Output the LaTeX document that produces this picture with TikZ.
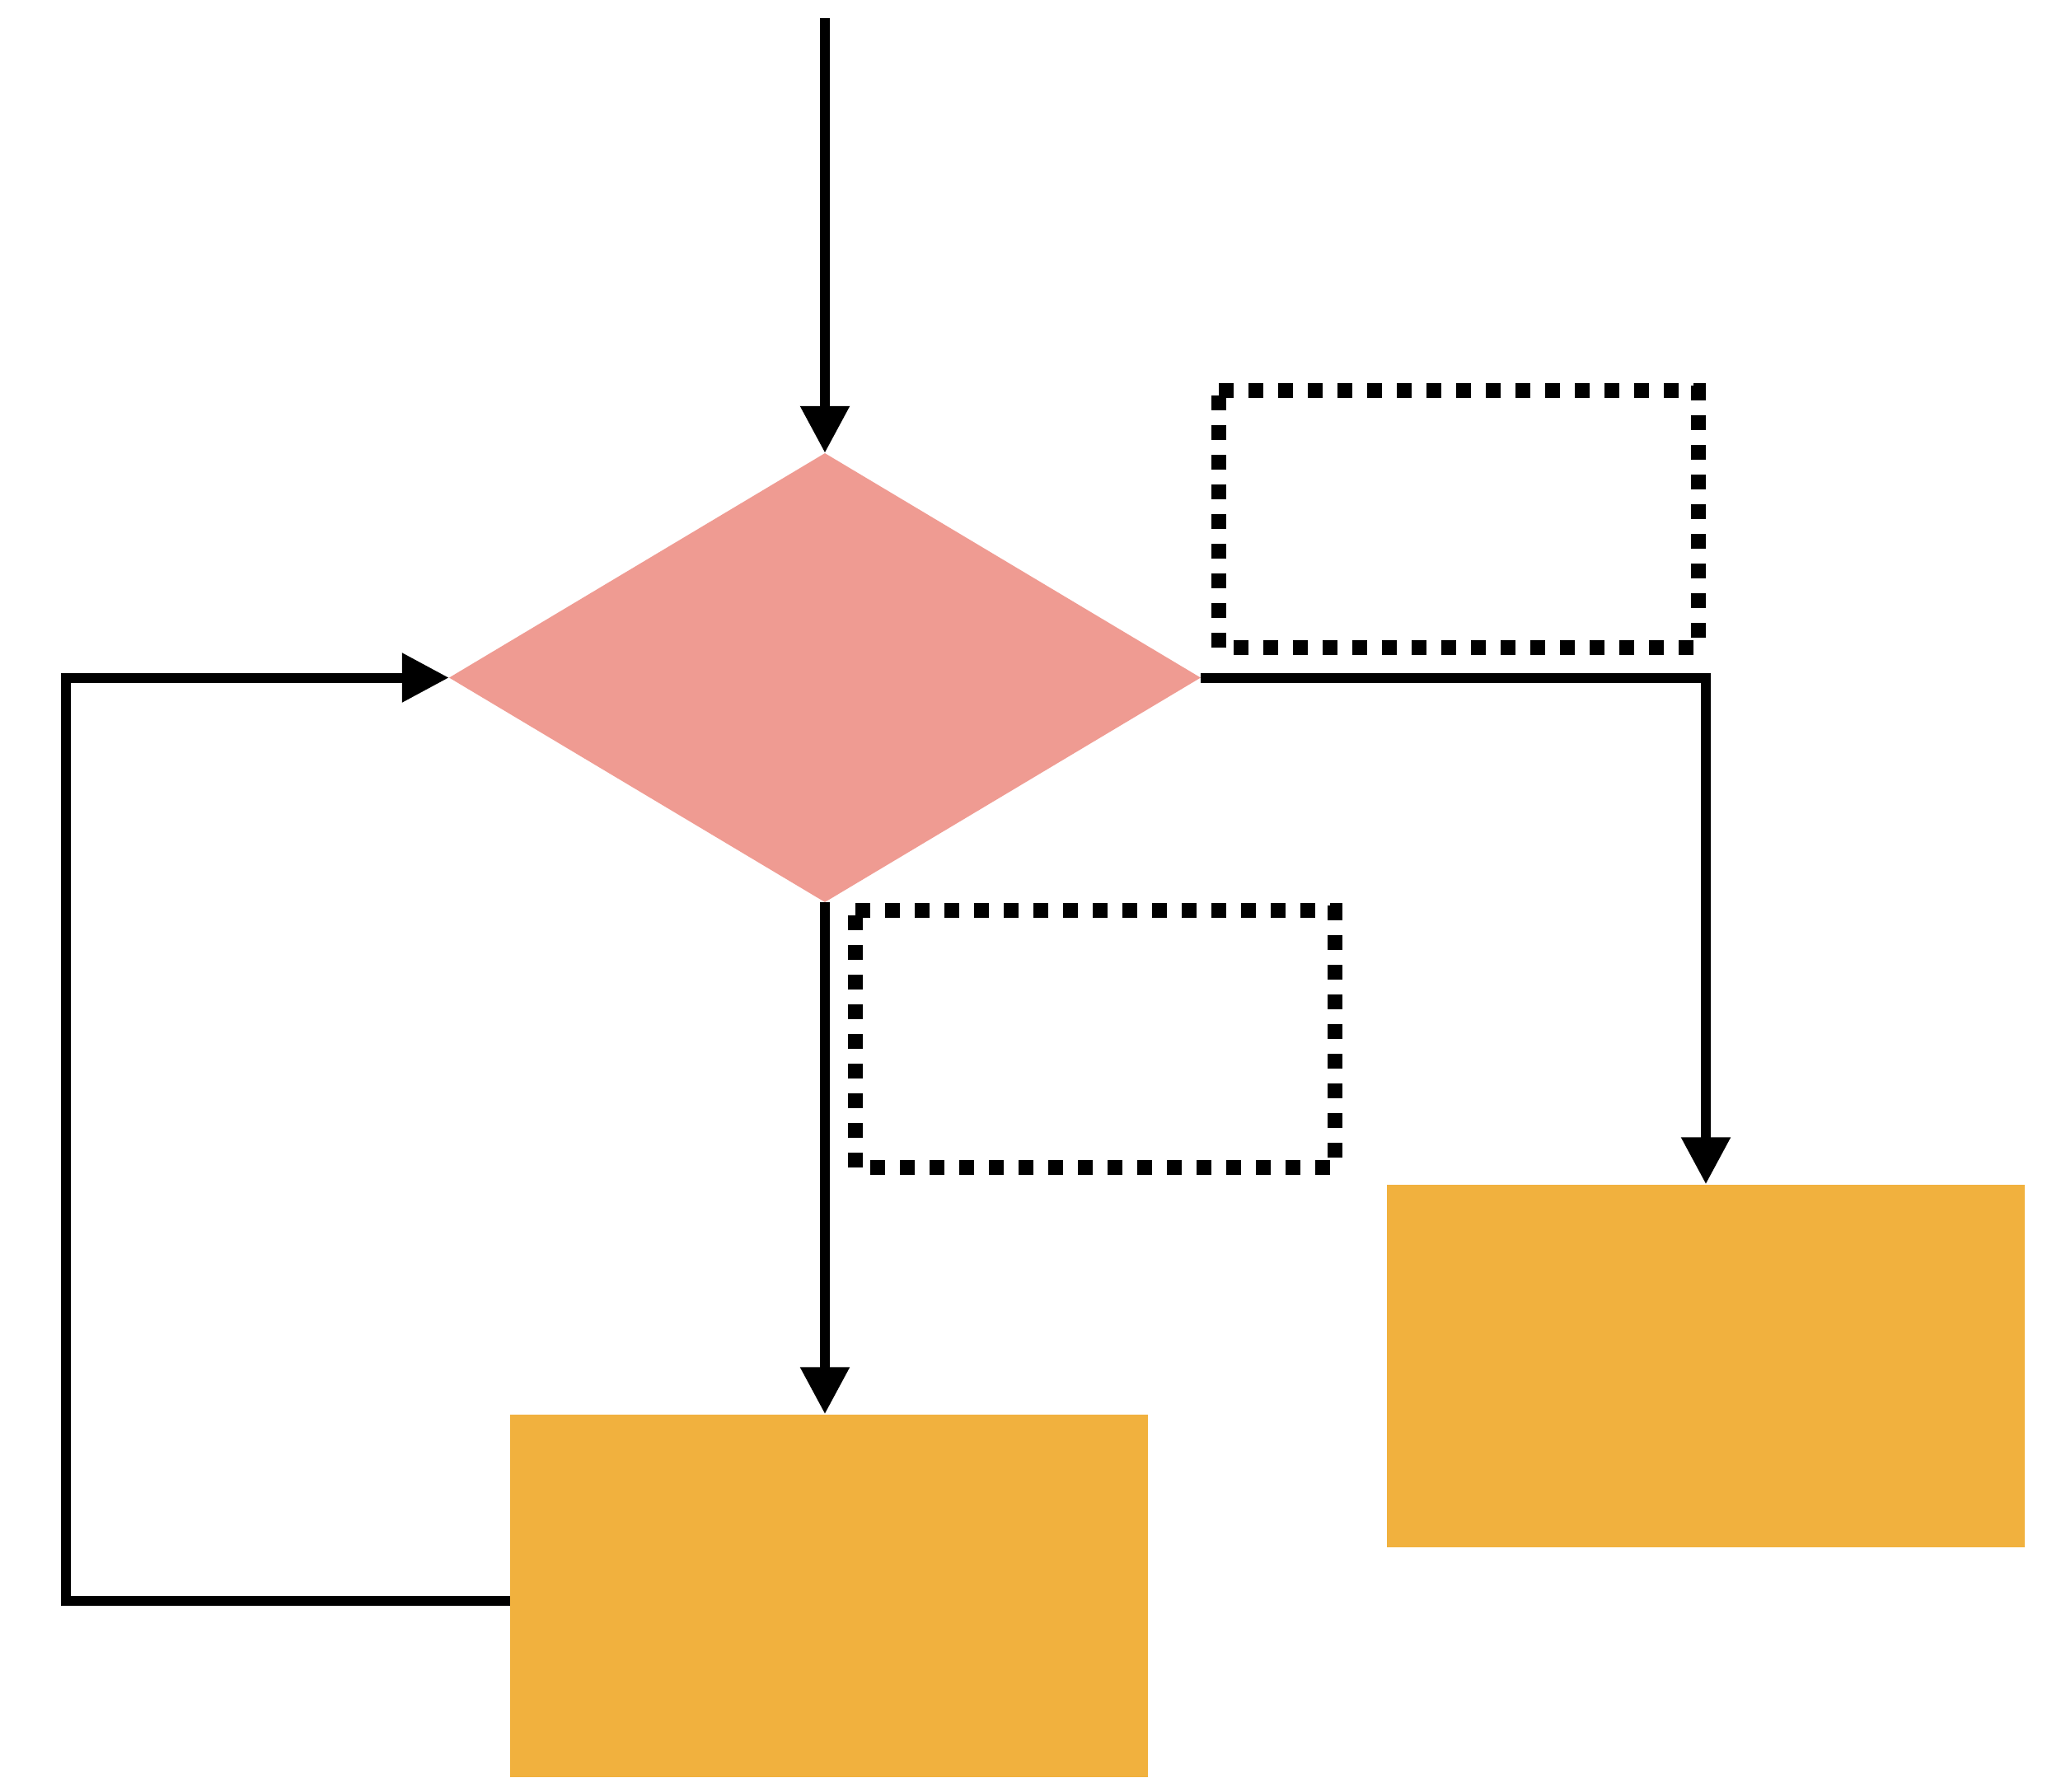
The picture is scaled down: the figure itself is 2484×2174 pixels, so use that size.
\documentclass[tikz,border=0pt]{standalone}
\usetikzlibrary{arrows.meta,shapes.geometric,calc}
\definecolor{decpink}{HTML}{EF9B92}
\definecolor{boxorange}{HTML}{F1B13E}
\tikzset{
  conn/.style={draw=black, line width=12pt,
    -{Triangle[length=57pt,width=57pt]}},
  decision/.style={diamond, fill=decpink, inner sep=0pt,
    minimum width=912pt, minimum height=545pt},
  process/.style={rectangle, fill=boxorange, inner sep=0pt,
    minimum width=774pt, minimum height=440pt},
  dotside/.style={draw=black, line width=18pt, dash pattern=on 18pt off 18pt},
  % empty dotted label frame, anchored at its top-left corner
  dotbox/.pic={
    \draw[dotside] (0,0) -- (591,0);
    \draw[dotside] (582,-6) -- (582,312);
    \draw[dotside] (18,312) -- (582,312);
    \draw[dotside] (0,6) -- (0,312);
  }
}
\begin{document}
\begin{tikzpicture}[x=1pt,y=-1pt]
  \fill[white] (0,0) rectangle (2484,2174);
  \useasboundingbox (0,0) rectangle (2484,2174);

  % shapes
  \node[decision] (dec) at (1001,822.5) {};
  \node[process] (boxA) at (1006,1936.5) {};
  \node[process] (boxB) at (2070,1657.5) {};

  % empty label frames
  \pic (labR) at (1479,474) {dotbox};
  \pic (labD) at (1038,1105) {dotbox};

  % connectors
  \coordinate (start) at (1001,22);
  \coordinate (lp) at (80,0);
  \draw[conn] (start) -- (dec.north);
  \draw[conn] (dec.south) -- (dec.south |- boxA.north);
  \draw[conn] (dec.east) -| (boxB.north);
  \draw[conn] ([yshift=-6.5pt]boxA.west) -| (lp |- dec.west) -- (dec.west);
\end{tikzpicture}
\end{document}
